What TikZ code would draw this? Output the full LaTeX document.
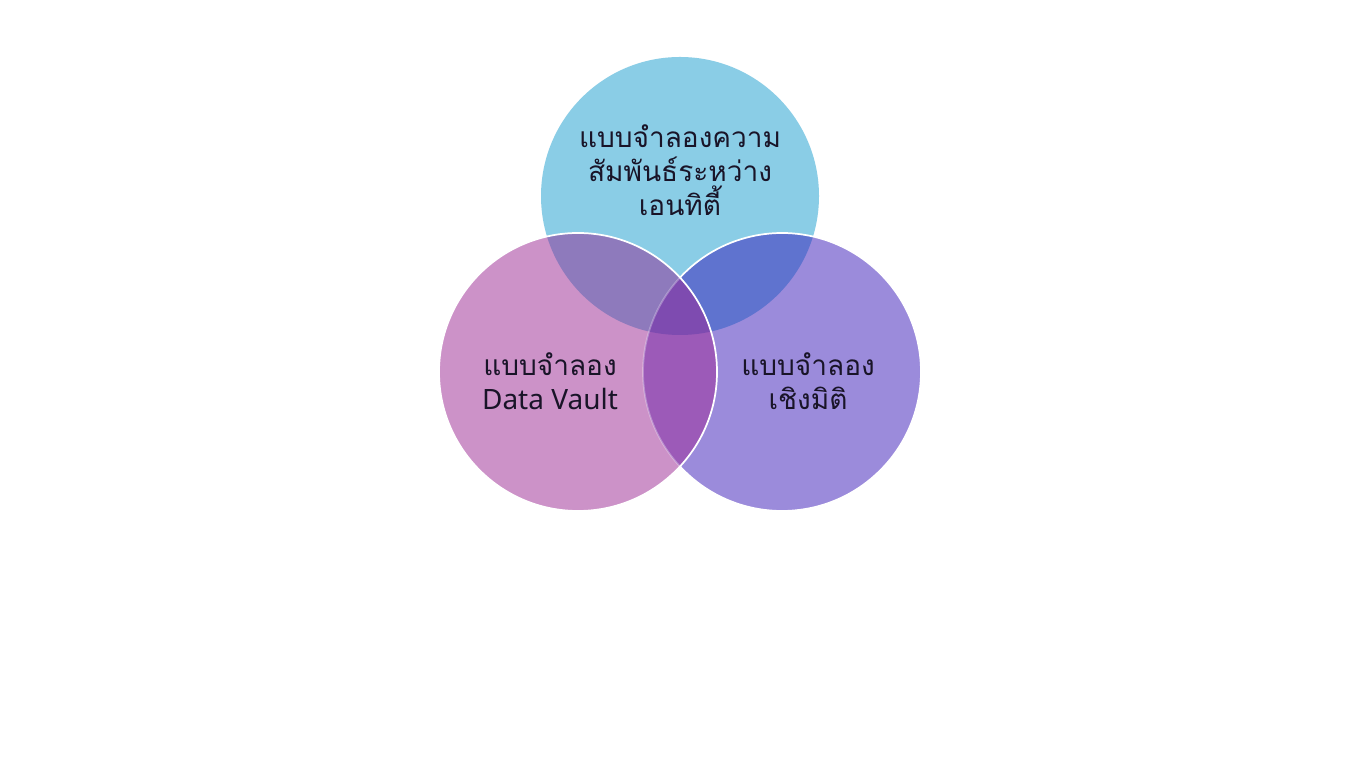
\documentclass[tikz,border=0pt]{standalone}
\usepackage{fontspec}
\newfontfamily\thaifont[Script=Thai]{Loma}
\newfontfamily\latinfont{Noto Sans}
\definecolor{ctop}{RGB}{138,205,230}
\definecolor{cleft}{RGB}{204,146,200}
\definecolor{cright}{RGB}{155,139,219}
\definecolor{ctl}{RGB}{142,122,188}
\definecolor{ctr}{RGB}{95,115,207}
\definecolor{clr}{RGB}{156,90,184}
\definecolor{call}{RGB}{126,75,176}
\definecolor{ctext}{RGB}{25,20,40}
\begin{document}
\begin{tikzpicture}[x=0.75pt,y=0.75pt,
  lbl/.style={align=center,text=ctext,font=\fontsize{21}{25.5}\selectfont\thaifont,inner sep=0pt},
  rim/.style={draw=white,line width=1.3pt}]
\useasboundingbox[fill=white] (0,0) rectangle (1360,784);
\coordinate (T) at (680,588);
\coordinate (L) at (578,412);
\coordinate (R) at (782,412);
% base fills
\fill[ctop] (T) circle (139);
\fill[cleft] (L) circle (139);
\fill[cright] (R) circle (139);
\begin{scope}
  \clip (T) circle (139);
  \fill[ctl] (L) circle (139);
  \fill[ctr] (R) circle (139);
\end{scope}
\begin{scope}
  \clip (L) circle (139);
  \fill[clr] (R) circle (139);
  \clip (T) circle (139);
  \fill[call] (R) circle (139);
\end{scope}
% outlines
\draw[rim] (R) ++(-137.2:139) arc[start angle=-137.2, end angle=137.2, radius=139];
\draw[rim,draw opacity=0.3] (R) ++(137.2:139) arc[start angle=137.2, end angle=222.8, radius=139];
\draw[rim] (L) circle (139);
% labels
\node[lbl] (ttop) at (680,614) {แบบจำลองความ\\สัมพันธ์ระหว่าง\\เอนทิตี้};
\node[lbl] (tleft) at (550,403) {แบบจำลอง\\{\latinfont Data Vault}};
\node[lbl] (tright) at (808,403) {แบบจำลอง\\เชิงมิติ};
\end{tikzpicture}
\end{document}
